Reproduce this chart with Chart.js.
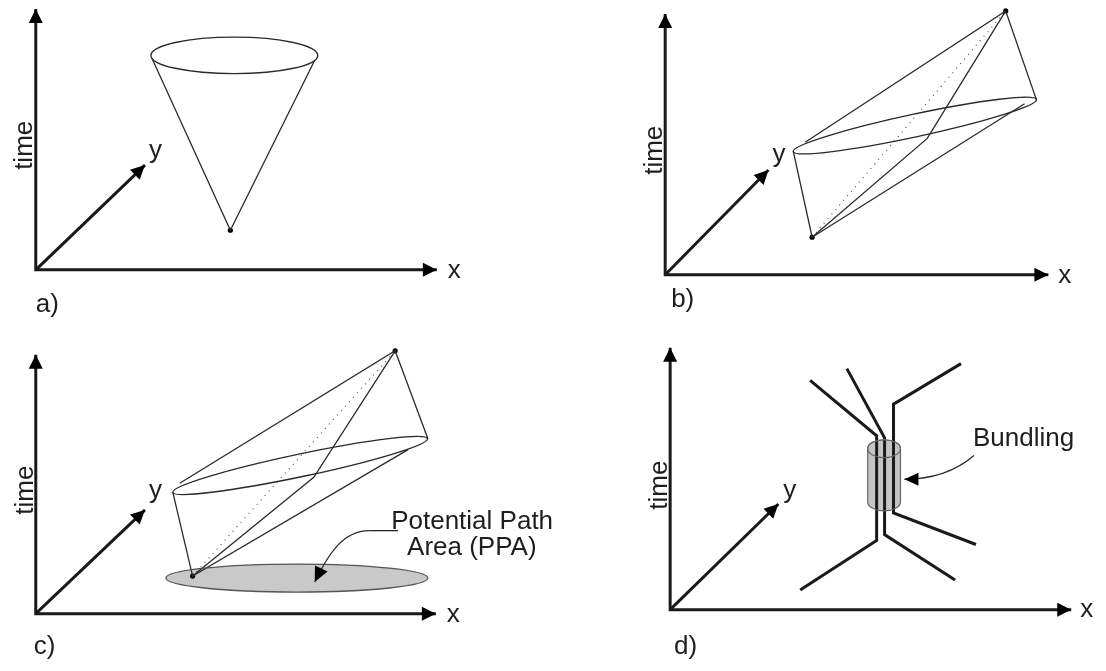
<!DOCTYPE html>
<html>
<head>
<meta charset="utf-8">
<script src="https://cdn.jsdelivr.net/npm/chart.js@4"></script>
<style>
  html, body { margin: 0; padding: 0; background: #fff; }
  #wrap { width: 1106px; height: 671px; }
</style>
</head>
<body>
<div id="wrap"><canvas id="diagram" width="1106" height="671"></canvas></div>
<script>
// ---- diagram values (x, y in picture units, y downwards) ----

// axes of the four panels a, b, c, d
var axisOrigins = [[32, 269], [666, 274], [32, 617], [671, 613]];
var timeTips    = [[32, 5],   [666, 10],  [32, 355], [671, 348]];
var xTips       = [[436, 269], [1052, 274], [435, 617], [1075, 613]];
var yTips       = [[142, 163], [770, 168], [142, 512], [780, 506]];

// a) single cone
var coneA = [[149, 55], [228, 229], [313, 57]];
var coneAEllipse = [232, 52, 84, 18.5, 0];          // cx, cy, rx, ry, rotation (deg)
var coneADot = [[228, 229]];

// b) space-time prism
var prismBLower = [[795, 149], [814, 236], [1028, 101]];
var prismBUpper = [[807, 140], [1009, 7], [1040, 97]];
var prismBCross = [[1009, 7], [930, 136], [814, 236]];
var prismBAxis  = [[814, 236], [1009, 7]];
var prismBEllipse = [917.5, 123, 125.3, 11.5, -12.1];

// c) prism with its potential path area
var prismCLower = [[170, 494], [190, 579], [407, 451]];
var prismCUpper = [[177, 485], [394, 351], [427, 440]];
var prismCCross = [[394, 351], [312, 479], [190, 579]];
var prismCAxis  = [[190, 579], [394, 351]];
var prismCEllipse = [298.3, 467, 131.1, 11.5, -11.9];
var ppaEllipse = [295, 581, 132, 14.2, 0];
var ppaPointer = [[397, 533], [340, 533], [325, 560], [313, 585]];   // cubic curve

// d) bundling
var bundleLine1 = [[812, 381], [879, 437], [879, 543], [802, 593]];
var bundleLine2 = [[849, 369], [887, 439], [887, 537], [958, 583]];
var bundleLine3 = [[964, 364], [896, 405], [896, 515], [979, 547]];
var bundleTube = [886.5, 16.5, 450, 504, 9];        // cx, rx, top cy, bottom cy, ry
var bundlePointer = [[977, 457], [955, 476], [930, 481], [907, 481]];

// texts
var panelLetters = ['a)', 'b)', 'c)', 'd)'];
var axisNames = ['time', 'x', 'y'];
var ppaLabel = ['Potential Path', 'Area (PPA)'];
var bundleLabel = 'Bundling';

// ---- layout of the texts ----
var letterPos = [[32, 312], [672, 307], [30, 658], [675, 658]];
var timePos = [[28, 143], [663, 148], [29, 492], [668, 487]];
var xLabelPos = [[447, 277], [1062, 282], [446, 625], [1084, 620]];
var yLabelPos = [[146, 156], [774, 160], [146, 500], [785, 500]];
var ppaLabelPos = [[390, 531], [406, 558]];
var bundleLabelPos = [976, 447];

var FONT = "26px 'Liberation Sans', Arial, sans-serif";
var INK = '#1a1a1a';
var THIN = '#2a2a2a';

function toXY(points) {
    return points.map(function(p) { return { x: p[0], y: p[1] }; });
}

function polyline(points, width, color, dash) {
    return {
        data: toXY(points),
        showLine: true,
        borderColor: color,
        borderWidth: width,
        borderDash: dash || [],
        borderJoinStyle: 'miter',
        pointRadius: 0,
        fill: false,
        tension: 0
    };
}

function dots(points) {
    return {
        data: toXY(points),
        showLine: false,
        pointRadius: 2.6,
        pointBackgroundColor: '#000',
        pointBorderWidth: 0
    };
}

var datasets = [];
axisOrigins.forEach(function(o, i) {
    datasets.push(polyline([timeTips[i], o, xTips[i]], 3, INK));
    datasets.push(polyline([o, yTips[i]], 3, INK));
});

datasets.push(polyline(coneA, 1.3, THIN));
datasets.push(dots(coneADot));

datasets.push(polyline(prismBLower, 1.3, THIN));
datasets.push(polyline(prismBUpper, 1.3, THIN));
datasets.push(polyline(prismBCross, 1.3, THIN));
datasets.push(polyline(prismBAxis, 1.2, '#555', [1, 5]));
datasets.push(dots(prismBAxis));

datasets.push(polyline(prismCLower, 1.3, THIN));
datasets.push(polyline(prismCUpper, 1.3, THIN));
datasets.push(polyline(prismCCross, 1.3, THIN));
datasets.push(polyline(prismCAxis, 1.2, '#555', [1, 5]));
datasets.push(dots(prismCAxis));

datasets.push(polyline([ppaPointer[0], [368, 533]], 1.3, THIN));

datasets.push(polyline(bundleLine1, 3, INK));
datasets.push(polyline(bundleLine2, 3, INK));
datasets.push(polyline(bundleLine3, 3, INK));

// drawing helpers that go through the chart's scales
function px(chart, p) {
    return [chart.scales.x.getPixelForValue(p[0]), chart.scales.y.getPixelForValue(p[1])];
}
function dx(chart, base, d) {
    return chart.scales.x.getPixelForValue(base + d) - chart.scales.x.getPixelForValue(base);
}
function dy(chart, base, d) {
    return chart.scales.y.getPixelForValue(base + d) - chart.scales.y.getPixelForValue(base);
}
function ellipsePath(chart, e) {
    var c = px(chart, [e[0], e[1]]);
    var ctx = chart.ctx;
    ctx.beginPath();
    ctx.ellipse(c[0], c[1], Math.abs(dx(chart, e[0], e[2])), Math.abs(dy(chart, e[1], e[3])),
        e[4] * Math.PI / 180, 0, Math.PI * 2);
}
function arrowHead(chart, tip, from, len, half) {
    var t = px(chart, tip), f = px(chart, from);
    var a = Math.atan2(t[1] - f[1], t[0] - f[0]);
    var ctx = chart.ctx;
    ctx.save();
    ctx.translate(t[0], t[1]);
    ctx.rotate(a);
    ctx.beginPath();
    ctx.moveTo(0, 0);
    ctx.lineTo(-len, -half);
    ctx.lineTo(-len, half);
    ctx.closePath();
    ctx.fillStyle = '#000';
    ctx.fill();
    ctx.restore();
}
function curve(chart, pts) {
    var p = pts.map(function(q) { return px(chart, q); });
    var ctx = chart.ctx;
    ctx.beginPath();
    ctx.moveTo(p[0][0], p[0][1]);
    ctx.bezierCurveTo(p[1][0], p[1][1], p[2][0], p[2][1], p[3][0], p[3][1]);
    ctx.stroke();
}
function tubeBody(chart) {
    var ctx = chart.ctx;
    var t = px(chart, [bundleTube[0], bundleTube[2]]);
    var b = px(chart, [bundleTube[0], bundleTube[3]]);
    var rx = dx(chart, bundleTube[0], bundleTube[1]);
    var ry = dy(chart, bundleTube[2], bundleTube[4]);
    ctx.beginPath();
    ctx.ellipse(t[0], t[1], rx, ry, 0, Math.PI, 0);
    ctx.lineTo(b[0] + rx, b[1]);
    ctx.ellipse(b[0], b[1], rx, ry, 0, 0, Math.PI);
    ctx.closePath();
    return { t: t, b: b, rx: rx, ry: ry };
}

var shapesPlugin = {
    id: 'shapes',
    beforeDatasetsDraw: function(chart) {
        var ctx = chart.ctx;
        ctx.save();
        ellipsePath(chart, ppaEllipse);
        ctx.fillStyle = '#c9c9c9';
        ctx.fill();
        tubeBody(chart);
        ctx.fillStyle = '#c4c4c4';
        ctx.fill();
        ctx.restore();
    },
    afterDatasetsDraw: function(chart) {
        var ctx = chart.ctx;
        ctx.save();

        // ellipse outlines
        ctx.strokeStyle = THIN;
        ctx.lineWidth = 1.4;
        [coneAEllipse, prismBEllipse, prismCEllipse].forEach(function(e) {
            ellipsePath(chart, e);
            ctx.stroke();
        });
        ellipsePath(chart, ppaEllipse);
        ctx.strokeStyle = '#555';
        ctx.lineWidth = 1.3;
        ctx.stroke();

        // bundling tube outline
        var g = tubeBody(chart);
        ctx.strokeStyle = '#666';
        ctx.lineWidth = 1.2;
        ctx.stroke();
        ctx.beginPath();
        ctx.ellipse(g.t[0], g.t[1], g.rx, g.ry, 0, 0, Math.PI * 2);
        ctx.stroke();

        // axis arrowheads
        axisOrigins.forEach(function(o, i) {
            arrowHead(chart, timeTips[i], o, 14, 7);
            arrowHead(chart, xTips[i], o, 14, 7);
            arrowHead(chart, yTips[i], o, 14, 7);
        });

        // pointer curves
        ctx.strokeStyle = THIN;
        ctx.lineWidth = 1.3;
        curve(chart, [[368, 533], ppaPointer[1], ppaPointer[2], ppaPointer[3]]);
        arrowHead(chart, ppaPointer[3], ppaPointer[2], 15, 7);
        curve(chart, bundlePointer);
        arrowHead(chart, bundlePointer[3], bundlePointer[2], 14, 6.5);

        // texts
        ctx.fillStyle = '#1e1e1e';
        ctx.font = FONT;
        ctx.textAlign = 'left';
        ctx.textBaseline = 'alphabetic';
        panelLetters.forEach(function(s, i) {
            var p = px(chart, letterPos[i]);
            ctx.fillText(s, p[0], p[1]);
        });
        xLabelPos.forEach(function(q) {
            var p = px(chart, q);
            ctx.fillText(axisNames[1], p[0], p[1]);
        });
        yLabelPos.forEach(function(q) {
            var p = px(chart, q);
            ctx.fillText(axisNames[2], p[0], p[1]);
        });
        timePos.forEach(function(q) {
            var p = px(chart, q);
            ctx.save();
            ctx.translate(p[0], p[1]);
            ctx.rotate(-Math.PI / 2);
            ctx.textAlign = 'center';
            ctx.fillText(axisNames[0], 0, 0);
            ctx.restore();
        });
        ppaLabel.forEach(function(s, i) {
            var p = px(chart, ppaLabelPos[i]);
            ctx.fillText(s, p[0], p[1]);
        });
        var bp = px(chart, bundleLabelPos);
        ctx.fillText(bundleLabel, bp[0], bp[1]);

        ctx.restore();
    }
};

var chart = new Chart(document.getElementById('diagram').getContext('2d'), {
    type: 'scatter',
    data: { datasets: datasets },
    options: {
        responsive: false,
        animation: false,
        events: [],
        layout: { padding: 0 },
        plugins: {
            legend: { display: false },
            tooltip: { enabled: false }
        },
        scales: {
            x: { type: 'linear', min: 0, max: 1106, display: false },
            y: { type: 'linear', min: 0, max: 671, reverse: true, display: false }
        }
    },
    plugins: [shapesPlugin]
});
</script>
</body>
</html>
